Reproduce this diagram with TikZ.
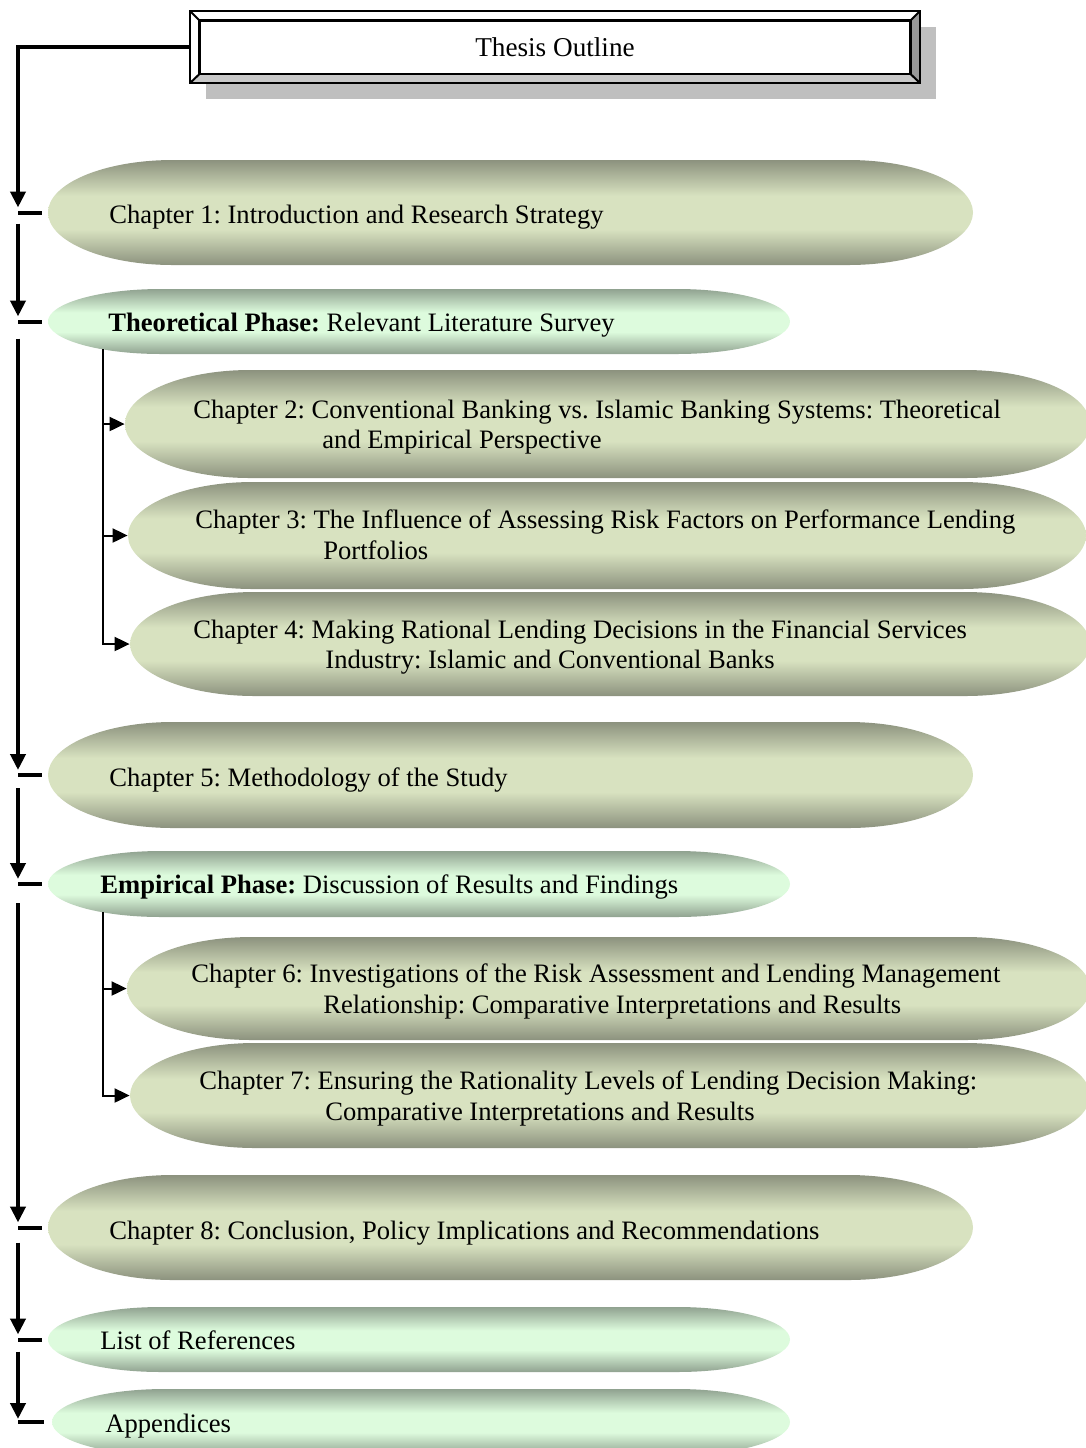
\documentclass[tikz,border=0pt]{standalone}
\usepackage{fontspec}
\setmainfont{Liberation Serif}
\usetikzlibrary{arrows.meta,calc,fit}
\definecolor{oliveD}{RGB}{140,146,126}
\definecolor{oliveL}{RGB}{216,226,192}
\definecolor{greenD}{RGB}{144,162,144}
\definecolor{greenL}{RGB}{221,251,221}
\definecolor{shadowgray}{RGB}{191,191,191}
\definecolor{bevelLight}{RGB}{200,200,200}
\definecolor{bevelDark}{RGB}{153,153,153}
\pgfdeclareverticalshading{oliveshade}{100bp}{color(0bp)=(oliveD); color(25bp)=(oliveD); color(42bp)=(oliveL); color(58bp)=(oliveL); color(75bp)=(oliveD); color(100bp)=(oliveD)}
\pgfdeclareverticalshading{greenshade}{100bp}{color(0bp)=(greenD); color(25bp)=(greenD); color(42bp)=(greenL); color(57bp)=(greenL); color(75bp)=(greenD); color(100bp)=(greenD)}
\newcommand\mycapsule[7]{%
  \pgfmathsetmacro\capry{(#6-#4)/2}%
  \shade[shading=#2] (#3+#7,#4) -- (#5-#7,#4) arc[start angle=-90,end angle=90,x radius=#7,y radius=\capry] -- (#3+#7,#6) arc[start angle=90,end angle=270,x radius=#7,y radius=\capry] -- cycle;
  \node[fit={(#3,#4)(#5,#6)},inner sep=0pt] (#1) {};
}
\frenchspacing
\begin{document}
\begin{tikzpicture}[x=0.5pt,y=-0.5pt,
  txt/.style={anchor=base west,inner sep=0pt,font=\fontsize{13.3}{16}\selectfont\frenchspacing},
  mainline/.style={line width=2pt},
  subline/.style={line width=1pt},
  mtip/.style={-{Triangle[length=8pt,width=7.5pt]}},
  stip/.style={-{Triangle[length=7.5pt,width=7pt]}},
  bevel/.style={line width=1.3pt,line join=miter}]
\useasboundingbox (0,0) rectangle (1086,1448);
% title box
\fill[shadowgray] (206,27) rectangle (936,99);
\node[minimum width=365pt,minimum height=36pt,inner sep=0pt,fill=white,font=\fontsize{13.6}{16}\selectfont] (title) at (555,47) {Thesis Outline};
\fill[bevelLight] (190,83) -- (199.5,74) -- (910.5,74) -- (920,83) -- cycle;
\fill[bevelDark] (920,11) -- (910.5,20.5) -- (910.5,74) -- (920,83) -- cycle;
\draw[bevel] (190,11) rectangle (920,83);
\draw[bevel] (199.5,20.5) rectangle (910.5,74);
\draw[line width=1pt] (190,11) -- (199.5,20.5) (920,11) -- (910.5,20.5) (190,83) -- (199.5,74) (920,83) -- (910.5,74);
% shapes
\mycapsule{ch1}{oliveshade}{48}{160}{973}{265}{125}
\mycapsule{theo}{greenshade}{48}{289}{790}{354}{113}
\mycapsule{ch2}{oliveshade}{125}{370}{1090}{478}{125}
\mycapsule{ch3}{oliveshade}{128}{482}{1086}{589}{125}
\mycapsule{ch4}{oliveshade}{130}{592}{1090}{696}{125}
\mycapsule{ch5}{oliveshade}{48}{722}{973}{828}{125}
\mycapsule{emp}{greenshade}{48}{851}{790}{917}{113}
\mycapsule{ch6}{oliveshade}{127}{937}{1090}{1040}{125}
\mycapsule{ch7}{oliveshade}{130}{1043}{1090}{1148}{125}
\mycapsule{ch8}{oliveshade}{48}{1175}{973}{1280}{125}
\mycapsule{refs}{greenshade}{48}{1307}{790}{1372}{113}
\mycapsule{app}{greenshade}{52}{1389}{790}{1455}{113}
% texts
\node[txt] (t1) at (109,223) {Chapter 1: Introduction and Research Strategy};
\node[txt] (tth) at (108,331) {\textbf{Theoretical Phase:} Relevant Literature Survey};
\node[txt] (t2a) at (193,418) {Chapter 2: Conventional Banking vs. Islamic Banking Systems: Theoretical};
\node[txt] (t2b) at (322,448) {and Empirical Perspective};
\node[txt] (t3a) at (195,528) {Chapter 3: The Influence of Assessing Risk Factors on Performance Lending};
\node[txt] (t3b) at (323,559) {Portfolios};
\node[txt] (t4a) at (193,638) {Chapter 4: Making Rational Lending Decisions in the Financial Services};
\node[txt] (t4b) at (325,668) {Industry: Islamic and Conventional Banks};
\node[txt] (t5) at (109,786) {Chapter 5: Methodology of the Study};
\node[txt] (tem) at (100,893) {\textbf{Empirical Phase:} Discussion of Results and Findings};
\node[txt] (t6a) at (191,982) {Chapter 6: Investigations of the Risk Assessment and Lending Management};
\node[txt] (t6b) at (323,1013) {Relationship: Comparative Interpretations and Results};
\node[txt] (t7a) at (199,1089) {Chapter 7: Ensuring the Rationality Levels of Lending Decision Making:};
\node[txt] (t7b) at (325,1120) {Comparative Interpretations and Results};
\node[txt] (t8) at (109,1239) {Chapter 8: Conclusion, Policy Implications and Recommendations};
\node[txt] (trf) at (100,1349) {List of References};
\node[txt] (tap) at (105,1432) {Appendices};
% connectors
\coordinate (spine) at (18,0);
\coordinate (subx) at (103,0);
\draw[mainline,mtip] (title.west) -| ($(ch1.west -| spine)+(0,-5)$);
\draw[mainline] (ch1.west -| spine) -- ++(24,0);
\draw[mainline,mtip] ($(ch1.west -| spine)+(0,11)$) -- ($(theo.west -| spine)+(0,-5)$);
\draw[mainline] (theo.west -| spine) -- ++(24,0);
\draw[mainline,mtip] ($(theo.west -| spine)+(0,17)$) -- ($(ch5.west -| spine)+(0,-5)$);
\draw[mainline] (ch5.west -| spine) -- ++(24,0);
\draw[mainline,mtip] ($(ch5.west -| spine)+(0,13)$) -- ($(emp.west -| spine)+(0,-5)$);
\draw[mainline] (emp.west -| spine) -- ++(24,0);
\draw[mainline,mtip] ($(emp.west -| spine)+(0,19)$) -- ($(ch8.west -| spine)+(0,-5)$);
\draw[mainline] (ch8.west -| spine) -- ++(24,0);
\draw[mainline,mtip] ($(ch8.west -| spine)+(0,15)$) -- ($(refs.west -| spine)+(0,-5)$);
\draw[mainline] (refs.west -| spine) -- ++(24,0);
\draw[mainline,mtip] ($(refs.west -| spine)+(0,12)$) -- ($(app.west -| spine)+(0,-3)$);
\draw[mainline] (app.west -| spine) -- ++(26,0);
% sub connectors
\draw[subline,stip] ($(theo.south -| subx)+(0,-5)$) |- (ch4.west);
\draw[subline,stip] (ch2.west -| subx) -- (ch2.west);
\draw[subline,stip] (ch3.west -| subx) -- (ch3.west);
\draw[subline,stip] ($(emp.south -| subx)+(0,-5)$) |- (ch7.west);
\draw[subline,stip] (ch6.west -| subx) -- (ch6.west);
\end{tikzpicture}
\end{document}
